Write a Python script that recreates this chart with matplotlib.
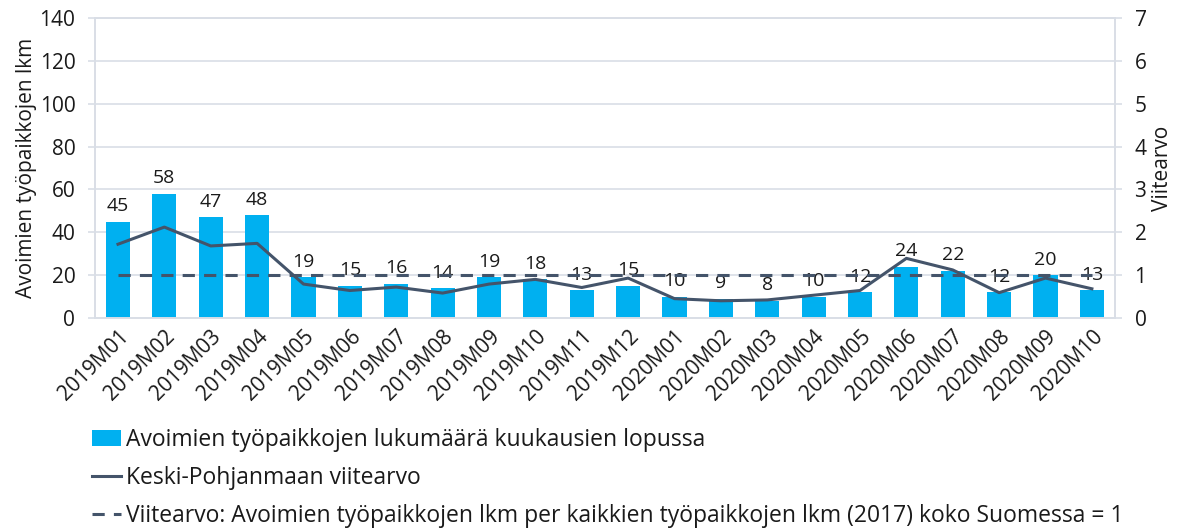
import matplotlib.pyplot as plt
import numpy as np

plt.rcParams['font.family'] = ['Open Sans', 'DejaVu Sans']

months = ['2019M01', '2019M02', '2019M03', '2019M04', '2019M05', '2019M06',
          '2019M07', '2019M08', '2019M09', '2019M10', '2019M11', '2019M12',
          '2020M01', '2020M02', '2020M03', '2020M04', '2020M05', '2020M06',
          '2020M07', '2020M08', '2020M09', '2020M10']
avoimet = [45, 58, 47, 48, 19, 15, 16, 14, 19, 18, 13, 15,
           10, 9, 8, 10, 12, 24, 22, 12, 20, 13]
viitearvo = [1.72, 2.12, 1.68, 1.74, 0.79, 0.64, 0.72, 0.58, 0.79, 0.90, 0.71, 0.93,
             0.45, 0.40, 0.42, 0.53, 0.64, 1.39, 1.12, 0.59, 0.93, 0.68]
suomi = [1.0] * len(months)

bar_col = '#00B0F0'
line_col = '#44546A'
grid_col = '#D9DEE6'
txt_col = '#1a1a1a'

fig = plt.figure(figsize=(11.85, 5.29), dpi=100)
ax = fig.add_axes([0.080, 0.399, 0.861, 0.567])
ax2 = ax.twinx()

x = np.arange(len(months))
bars = ax.bar(x, avoimet, width=0.52, color=bar_col, zorder=2,
              label='Avoimien työpaikkojen lukumäärä kuukausien lopussa')
for xi, v in zip(x, avoimet):
    ax.text(xi, v + 3, str(v), ha='center', va='bottom', fontsize=14, color=txt_col, zorder=5)

l1, = ax2.plot(x, viitearvo, color=line_col, lw=2.2, zorder=3,
               label='Keski-Pohjanmaan viitearvo')
l2, = ax2.plot(x, suomi, color=line_col, lw=2.2, ls=(0, (4, 3)), zorder=3,
               label='Viitearvo: Avoimien työpaikkojen lkm per kaikkien työpaikkojen lkm (2017) koko Suomessa = 1')

ax.set_xlim(-0.5, len(months) - 0.5)
ax.set_ylim(0, 140)
ax.set_yticks(range(0, 141, 20))
ax2.set_ylim(0, 7)
ax2.set_yticks(range(0, 8))
ax.grid(axis='y', color=grid_col, lw=1.2, zorder=0)
ax.set_axisbelow(True)

for a in (ax, ax2):
    for s in a.spines.values():
        s.set_color(grid_col)
        s.set_linewidth(1.2)
    a.tick_params(axis='y', length=5, width=1.2, color=grid_col, labelsize=15,
                  labelcolor=txt_col, pad=9)
ax.tick_params(axis='x', length=0, labelsize=15, labelcolor=txt_col, pad=6)

ax.set_xticks(x)
ax.set_xticklabels(months, rotation=45, ha='right', rotation_mode='anchor')
ax.set_ylabel('Avoimien työpaikkojen lkm', fontsize=15, color=txt_col, labelpad=2)
ax2.set_ylabel('Viitearvo', fontsize=15, color=txt_col, rotation=90, labelpad=4)

leg = fig.legend(handles=[bars, l1, l2], loc='upper left',
                 bbox_to_anchor=(0.078, 1 - 428 / 529),
                 frameon=False, fontsize=16.5, ncol=1, labelspacing=0.62,
                 handlelength=1.25, handletextpad=0.2, borderaxespad=0, borderpad=0)
for t in leg.get_texts():
    t.set_color(txt_col)

fig.savefig('out.png', dpi=100)
